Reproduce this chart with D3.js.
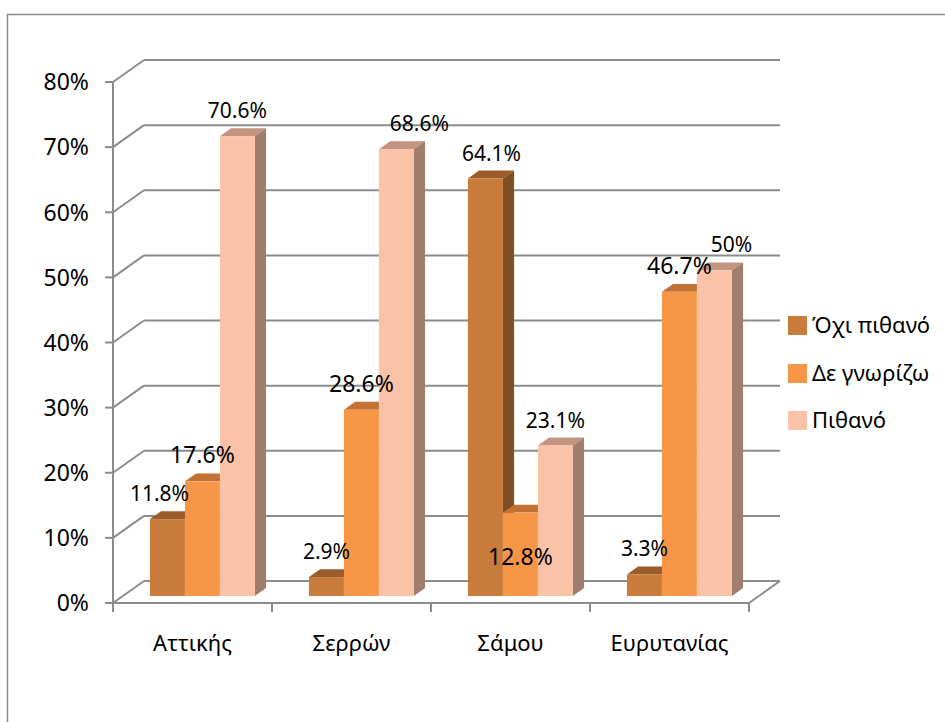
<!DOCTYPE html>
<html>
<head>
<meta charset="utf-8">
<script src="https://cdn.jsdelivr.net/npm/d3@7"></script>
<style>
  html, body { margin: 0; padding: 0; background: #fff; }
  svg { display: block; font-family: "Noto Sans", "Open Sans", sans-serif; }
</style>
</head>
<body>
<svg id="chart" width="945" height="722"></svg>
<script>
// Regions and answer categories
const categories = ["Αττικής", "Σερρών", "Σάμου", "Ευρυτανίας"];
const seriesNames = ["Όχι πιθανό", "Δε γνωρίζω", "Πιθανό"];
// Share of answers per region, one array per answer
const notLikely = [0.118, 0.029, 0.641, 0.033];
const dontKnow  = [0.176, 0.286, 0.128, 0.467];
const likely    = [0.706, 0.686, 0.231, 0.500];
const yTicks = [0, 0.1, 0.2, 0.3, 0.4, 0.5, 0.6, 0.7, 0.8];

const seriesValues = [notLikely, dontKnow, likely];

// Face colours per series: front, top, side
const palette = [
  { front: "#C87B3A", top: "#9C5C2A", side: "#7E4E25" },
  { front: "#F79646", top: "#C27235", side: "#A5602B" },
  { front: "#FAC2A7", top: "#C3957F", side: "#A07D6D" }
];
// Data label font size per series
const labelSize = [21, 23, 21];

// A few labels sit away from their default spot
const labelNudge = {
  "0-0": [-8, 0],
  "2-1": [23, 0],
  "0-2": [6, 0],
  "1-2": [0, 70],
  "2-3": [17, 0]
};

const svg = d3.select("#chart");

// Outer frame
svg.append("rect")
  .attr("x", 7.5).attr("y", 14.5)
  .attr("width", 1000).attr("height", 1000)
  .attr("fill", "none").attr("stroke", "#8a8a8a").attr("stroke-width", 1.5);

// Plot geometry (front plane) and depth projection
const X0 = 113, X1 = 749;
const DX = 31, DY = -22;          // full depth offset of the box
const BF = 0.32, BB = 0.68;       // bar front/back depth fractions

const y = d3.scaleLinear().domain([0, 0.8]).range([603, 82]);
const x0 = d3.scaleBand().domain(categories).range([X0, X1]).paddingInner(0).paddingOuter(0);
const bw = x0.bandwidth();
const x1 = d3.scaleBand().domain(d3.range(seriesNames.length)).range([bw * 0.17, bw * 0.83]).padding(0);

const grid = "#8c8c8c";
const g = svg.append("g");

// Back wall gridlines
g.selectAll("line.back").data(yTicks).join("line")
  .attr("x1", X0 + DX).attr("x2", X1 + DX)
  .attr("y1", d => y(d) + DY).attr("y2", d => y(d) + DY)
  .attr("stroke", grid).attr("stroke-width", 2);

// Side wall diagonals
g.selectAll("line.side").data(yTicks).join("line")
  .attr("x1", X0).attr("x2", X0 + DX)
  .attr("y1", d => y(d)).attr("y2", d => y(d) + DY)
  .attr("stroke", grid).attr("stroke-width", 2);

// Floor: front edge, right diagonal
g.append("line").attr("x1", X0).attr("x2", X1).attr("y1", y(0)).attr("y2", y(0))
  .attr("stroke", grid).attr("stroke-width", 2);
g.append("line").attr("x1", X1).attr("x2", X1 + DX).attr("y1", y(0)).attr("y2", y(0) + DY)
  .attr("stroke", grid).attr("stroke-width", 2);

// Vertical value axis
g.append("line").attr("x1", X0).attr("x2", X0).attr("y1", y(0.8)).attr("y2", y(0) + 8)
  .attr("stroke", grid).attr("stroke-width", 2);
g.selectAll("line.ytick").data(yTicks).join("line")
  .attr("x1", X0 - 8).attr("x2", X0)
  .attr("y1", d => y(d)).attr("y2", d => y(d))
  .attr("stroke", grid).attr("stroke-width", 2);
g.selectAll("text.ylab").data(yTicks).join("text")
  .attr("x", X0 - 24).attr("y", d => y(d))
  .attr("dy", "0.36em")
  .attr("text-anchor", "end")
  .attr("font-size", 23).attr("fill", "#000")
  .text(d => d3.format(".0%")(d));

// Category ticks along the floor edge
const catEdges = categories.map(c => x0(c)).concat([X1]);
g.selectAll("line.xtick").data(catEdges).join("line")
  .attr("x1", d => d).attr("x2", d => d)
  .attr("y1", y(0)).attr("y2", y(0) + 9)
  .attr("stroke", grid).attr("stroke-width", 2);

g.selectAll("text.xlab").data(categories).join("text")
  .attr("x", d => x0(d) + bw / 2).attr("y", 651)
  .attr("text-anchor", "middle")
  .attr("font-size", 22).attr("fill", "#000")
  .text(d => d);

// Bars (drawn left to right so each bar hides its neighbour's side face)
const fdx = DX * BF, fdy = DY * BF;
const bdx = DX * BB, bdy = DY * BB;
const barW = x1.bandwidth();
const bars = [];
categories.forEach((c, ci) => {
  seriesValues.forEach((vals, si) => {
    bars.push({ c, ci, si, v: vals[ci] });
  });
});

const barG = svg.append("g");
bars.forEach(b => {
  const xl = x0(b.c) + x1(b.si) + fdx;
  const xr = xl + barW;
  const yb = y(0) + fdy;
  const yt = y(b.v) + fdy;
  const ddx = bdx - fdx, ddy = bdy - fdy;
  const col = palette[b.si];
  const bg = barG.append("g");
  // top face
  bg.append("path")
    .attr("d", `M${xl},${yt}L${xr},${yt}L${xr + ddx},${yt + ddy}L${xl + ddx},${yt + ddy}Z`)
    .attr("fill", col.top);
  // right side face
  bg.append("path")
    .attr("d", `M${xr},${yt}L${xr + ddx},${yt + ddy}L${xr + ddx},${yb + ddy}L${xr},${yb}Z`)
    .attr("fill", col.side);
  // front face
  bg.append("rect")
    .attr("x", xl).attr("y", yt)
    .attr("width", barW).attr("height", yb - yt)
    .attr("fill", col.front);
});

// Value labels
const fmt = v => (Math.round(v * 1000) / 10) + "%";
const nudge = b => labelNudge[b.si + "-" + b.ci] || [0, 0];
svg.append("g").selectAll("text").data(bars).join("text")
  .attr("x", b => x0(b.c) + x1(b.si) + fdx + barW / 2 + nudge(b)[0])
  .attr("y", b => y(b.v) + fdy - 18 + nudge(b)[1])
  .attr("text-anchor", "middle")
  .attr("font-size", b => labelSize[b.si]).attr("fill", "#000")
  .text(b => fmt(b.v));

// Legend
const leg = svg.append("g").attr("transform", "translate(788,0)");
const legY = [325, 373, 420];
seriesNames.forEach((name, i) => {
  leg.append("rect").attr("x", 0).attr("y", legY[i] - 9).attr("width", 19).attr("height", 19)
    .attr("fill", palette[i].front);
  leg.append("text").attr("x", 24).attr("y", legY[i]).attr("dy", "0.36em")
    .attr("font-size", 22).attr("fill", "#000").text(name);
});
</script>
</body>
</html>
